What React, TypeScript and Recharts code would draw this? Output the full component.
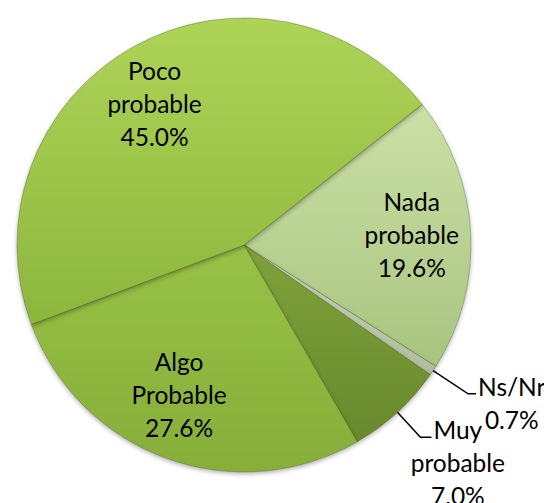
import React from 'react';
import { PieChart, Pie, Cell } from 'recharts';

// Respuestas de la encuesta, en orden horario desde arriba a la derecha
const categories = ['Nada probable', 'Ns/Nr', 'Muy probable', 'Algo Probable', 'Poco probable'];
const shares = [19.6, 0.7, 7.0, 27.6, 45.0];
// Las dos porciones pequeñas llevan la etiqueta fuera, con línea guía
const outsideLabels = ['Ns/Nr', 'Muy probable'];

const sliceColors = [
    ['#CBE0A7', '#A9C47F'],
    ['#CBD5BF', '#AEBD9C'],
    ['#7EA23A', '#68892D'],
    ['#98C146', '#86AE39'],
    ['#ADD457', '#8DB63D'],
];

const data = categories.map((name, i) => ({ name, value: shares[i] }));

const FONT = 'Lato, "Noto Sans", sans-serif';
const FONT_SIZE = 24.5;
const LINE_H = 33;
const START = 38.3;
const RADIAN = Math.PI / 180;

// ajustes finos de colocación de cada etiqueta
const leaderLength: Record<string, [number, number]> = { 'Ns/Nr': [42, 8], 'Muy probable': [34, 11] };
const labelNudge: Record<string, [number, number]> = {
    'Poco probable': [-7, 6],
    'Algo Probable': [-8, -7],
    'Nada probable': [0, 0],
};

let ctx: CanvasRenderingContext2D | null = null;
const textWidth = (s: string) => {
    if (!ctx) ctx = document.createElement('canvas').getContext('2d');
    if (!ctx) return s.length * 12;
    ctx.font = `${FONT_SIZE}px Lato`;
    return ctx.measureText(s).width;
};

const renderLabel = (props: any) => {
    const { cx, cy, midAngle, outerRadius, name, value } = props;
    const lines = [...name.split(' '), `${Number(value).toFixed(1)}%`];
    const cos = Math.cos(-midAngle * RADIAN);
    const sin = Math.sin(-midAngle * RADIAN);

    if (outsideLabels.includes(name)) {
        const [ext, run] = leaderLength[name] ?? [40, 10];
        const sx = cx + outerRadius * cos;
        const sy = cy + outerRadius * sin;
        const ex = cx + (outerRadius + ext) * cos;
        const ey = cy + (outerRadius + ext) * sin;
        const hx = ex + run;
        const centerX = hx + 2 + textWidth(lines[0]) / 2;
        return (
            <g>
                <polyline
                    points={`${sx},${sy} ${ex},${ey} ${hx},${ey}`}
                    fill="none"
                    stroke="#000"
                    strokeWidth={1.5}
                />
                <text x={centerX} y={ey + 2} textAnchor="middle" fill="#000" fontFamily={FONT} fontSize={FONT_SIZE}>
                    {lines.map((l, i) => (
                        <tspan key={i} x={centerX} dy={i === 0 ? 0 : LINE_H}>
                            {l}
                        </tspan>
                    ))}
                </text>
            </g>
        );
    }

    const [nx, ny] = labelNudge[name] ?? [0, 0];
    const r = outerRadius * 0.74;
    const x = cx + r * cos + nx;
    const y = cy + r * sin + ny;
    return (
        <text x={x} y={y + 8 - LINE_H} textAnchor="middle" fill="#000" fontFamily={FONT} fontSize={FONT_SIZE}>
            {lines.map((l, i) => (
                <tspan key={i} x={x} dy={i === 0 ? 0 : LINE_H}>
                    {l}
                </tspan>
            ))}
        </text>
    );
};

export default function App() {
    return (
        <div style={{ position: 'absolute', left: 0, top: 0, width: 544, height: 503, background: '#fff' }}>
            <style>{`.recharts-pie-sector path { filter: drop-shadow(0px 2px 2px rgba(0,0,0,0.3)); }`}</style>
            <PieChart width={544} height={503}>
                <defs>
                    {sliceColors.map(([top, bottom], i) => (
                        <linearGradient key={i} id={`slice-${i}`} x1="0" y1="0" x2="0" y2="1">
                            <stop offset="0%" stopColor={top} />
                            <stop offset="100%" stopColor={bottom} />
                        </linearGradient>
                    ))}
                </defs>
                <Pie
                    data={data}
                    dataKey="value"
                    nameKey="name"
                    cx={239}
                    cy={240}
                    outerRadius={227}
                    startAngle={START}
                    endAngle={START - 360}
                    stroke="rgba(70,95,25,0.35)"
                    strokeWidth={1}
                    label={renderLabel}
                    labelLine={false}
                    isAnimationActive={false}
                >
                    {data.map((d, i) => (
                        <Cell key={d.name} fill={`url(#slice-${i})`} />
                    ))}
                </Pie>
            </PieChart>
        </div>
    );
}
